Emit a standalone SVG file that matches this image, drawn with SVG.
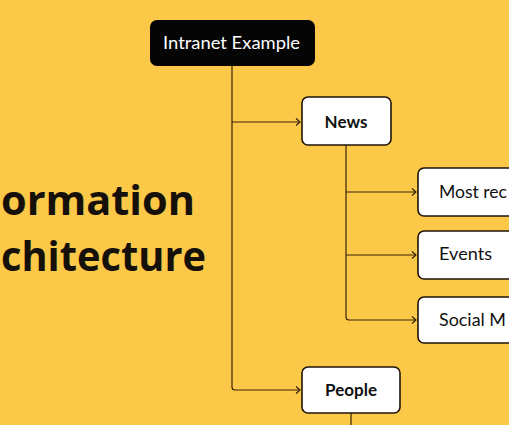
<svg xmlns="http://www.w3.org/2000/svg" width="509" height="425" viewBox="0 0 509 425">
<defs>
<marker id="arr" markerWidth="8" markerHeight="10" refX="6" refY="5" orient="auto" markerUnits="userSpaceOnUse">
<path d="M2,1.5 L6,5 L2,8.5" fill="none" stroke="#2b1a06" stroke-width="1.1"/>
</marker>
<style>
.bg{fill:#FCC847}
.box{fill:#ffffff;stroke:#1e1408;stroke-width:1.6}
.dark{fill:#050505}
.lbl{font-family:"Lato","Inter","Liberation Sans",sans-serif;font-size:17px;fill:#111;font-variant-ligatures:none}
.bold{font-weight:700}
.white{fill:#ffffff}
.big{font-family:"Open Sans","Lato","Liberation Sans",sans-serif;font-size:42px;font-weight:700;fill:#15110a;font-variant-ligatures:none}
.con{fill:none;stroke:#3a2508;stroke-width:1.2}
</style>
</defs>
<rect class="bg" x="0" y="0" width="509" height="425"/>
<g id="title">
<text class="big" x="1" y="215" textLength="194" lengthAdjust="spacingAndGlyphs">ormation</text>
<text class="big" x="1" y="271" textLength="205" lengthAdjust="spacingAndGlyphs">chitecture</text>
</g>
<g id="connectors">
<path class="con" d="M232,66 V387 Q232,390 235,390 H300" marker-end="url(#arr)"/>
<path class="con" d="M232,122 H300" marker-end="url(#arr)"/>
<path class="con" d="M346,145 V317 Q346,320 349,320 H416" marker-end="url(#arr)"/>
<path class="con" d="M346,192 H416" marker-end="url(#arr)"/>
<path class="con" d="M346,255 H416" marker-end="url(#arr)"/>
<path class="con" d="M351,413 V425"/>
</g>
<g id="intranet">
<rect class="dark" x="150" y="20" width="165" height="46" rx="7"/>
<text class="lbl white" x="163" y="49" textLength="137" lengthAdjust="spacingAndGlyphs">Intranet Example</text>
</g>
<g id="news">
<rect class="box" x="302" y="97" width="89" height="48" rx="6"/>
<text class="lbl bold" x="346" y="127.5" text-anchor="middle">News</text>
</g>
<g id="most-recent">
<rect class="box" x="418" y="168" width="140" height="48" rx="6"/>
<text class="lbl" x="439" y="198" textLength="68" lengthAdjust="spacingAndGlyphs">Most rec</text>
</g>
<g id="events">
<rect class="box" x="418" y="231" width="140" height="48" rx="6"/>
<text class="lbl" x="439" y="260" textLength="53" lengthAdjust="spacingAndGlyphs">Events</text>
</g>
<g id="social">
<rect class="box" x="418" y="297" width="140" height="46" rx="6"/>
<text class="lbl" x="439" y="326" textLength="67" lengthAdjust="spacingAndGlyphs">Social M</text>
</g>
<g id="people">
<rect class="box" x="302" y="367" width="98" height="46" rx="6"/>
<text class="lbl bold" x="351" y="396" text-anchor="middle">People</text>
</g>
</svg>
